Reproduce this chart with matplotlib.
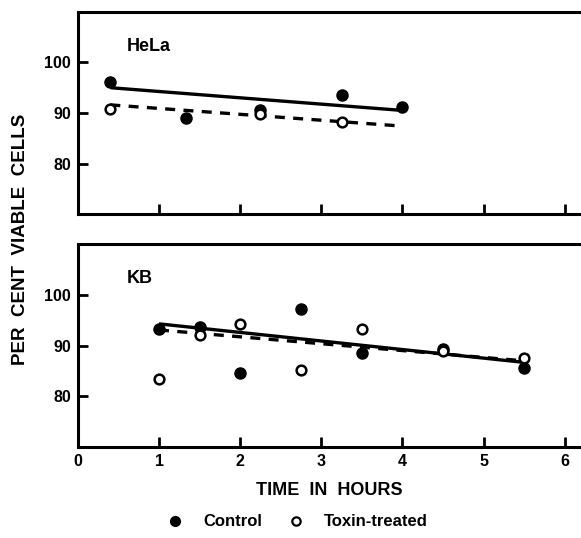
import numpy as np
import matplotlib.pyplot as plt
from matplotlib.lines import Line2D

plt.rcParams['font.family'] = ['Liberation Sans', 'DejaVu Sans']
plt.rcParams['font.weight'] = 'bold'

# HeLa panel
hela_ctrl_x = [0.4, 1.33, 2.25, 3.25, 4.0]
hela_ctrl_y = [96.2, 89.0, 90.6, 93.6, 91.1]
hela_tox_x = [0.4, 2.25, 3.25]
hela_tox_y = [90.8, 89.7, 88.2]
hela_fit_x = [0.4, 4.0]
hela_ctrl_fit = [95.0, 90.5]
hela_tox_fit = [91.6, 87.4]

# KB panel
kb_ctrl_x = [1.0, 1.5, 2.0, 2.75, 3.5, 4.5, 5.5]
kb_ctrl_y = [93.3, 93.7, 84.6, 97.2, 88.5, 89.4, 85.5]
kb_tox_x = [1.0, 1.5, 2.0, 2.75, 3.5, 4.5, 5.5]
kb_tox_y = [83.4, 92.1, 94.3, 85.2, 93.3, 88.9, 87.6]
kb_fit_x = [1.0, 5.5]
kb_ctrl_fit = [94.3, 86.7]
kb_tox_fit = [93.1, 87.0]

xticks = [0, 1, 2, 3, 4, 5, 6]
yticks = [80, 90, 100]

fig = plt.figure(figsize=(5.81, 5.38), dpi=100)
ax1 = fig.add_axes([0.134, 0.602, 0.866, 0.376])
ax2 = fig.add_axes([0.134, 0.169, 0.866, 0.377])

def draw(ax, cx, cy, tx, ty, fx, fc, ft, name):
  ax.plot(fx, fc, color='black', lw=2.4, solid_capstyle='butt')
  ax.plot(fx, ft, color='black', lw=2.4, ls=(0, (3, 2.5)))
  ax.plot(cx, cy, 'o', color='black', ms=8, zorder=3)
  ax.plot(tx, ty, 'o', mfc='white', mec='black', mew=1.8, ms=7, zorder=4)
  ax.set_xlim(0, 6.2)
  ax.set_ylim(70, 110)
  ax.set_yticks(yticks)
  ax.set_xticks(xticks)
  ax.spines['right'].set_visible(False)
  for s in ['left', 'top', 'bottom']:
    ax.spines[s].set_linewidth(2.2)
  ax.tick_params(direction='in', length=7, width=2, labelsize=11.5, pad=5)
  ax.text(0.098, 0.83, name, transform=ax.transAxes, fontsize=13,
          fontweight='bold', ha='left', va='center')

draw(ax1, hela_ctrl_x, hela_ctrl_y, hela_tox_x, hela_tox_y,
     hela_fit_x, hela_ctrl_fit, hela_tox_fit, 'HeLa')
draw(ax2, kb_ctrl_x, kb_ctrl_y, kb_tox_x, kb_tox_y,
     kb_fit_x, kb_ctrl_fit, kb_tox_fit, 'KB')

ax1.tick_params(axis='x', labelbottom=False)
ax2.set_xlabel('TIME  IN  HOURS', fontsize=13, fontweight='bold', labelpad=9)

fig.text(0.036, 0.555, 'PER  CENT  VIABLE  CELLS', rotation=90, fontsize=13.5,
         fontweight='bold', ha='center', va='center')

handles = [
  Line2D([], [], ls='none', marker='o', color='black', ms=7),
  Line2D([], [], ls='none', marker='o', mfc='white', mec='black', mew=1.6, ms=6),
]
fig.legend(handles, ['Control', 'Toxin-treated'], loc='center',
           bbox_to_anchor=(0.505, 0.03), ncol=2, frameon=False,
           fontsize=12, columnspacing=1.0, handletextpad=0.7)

fig.savefig('out.png', dpi=100)
